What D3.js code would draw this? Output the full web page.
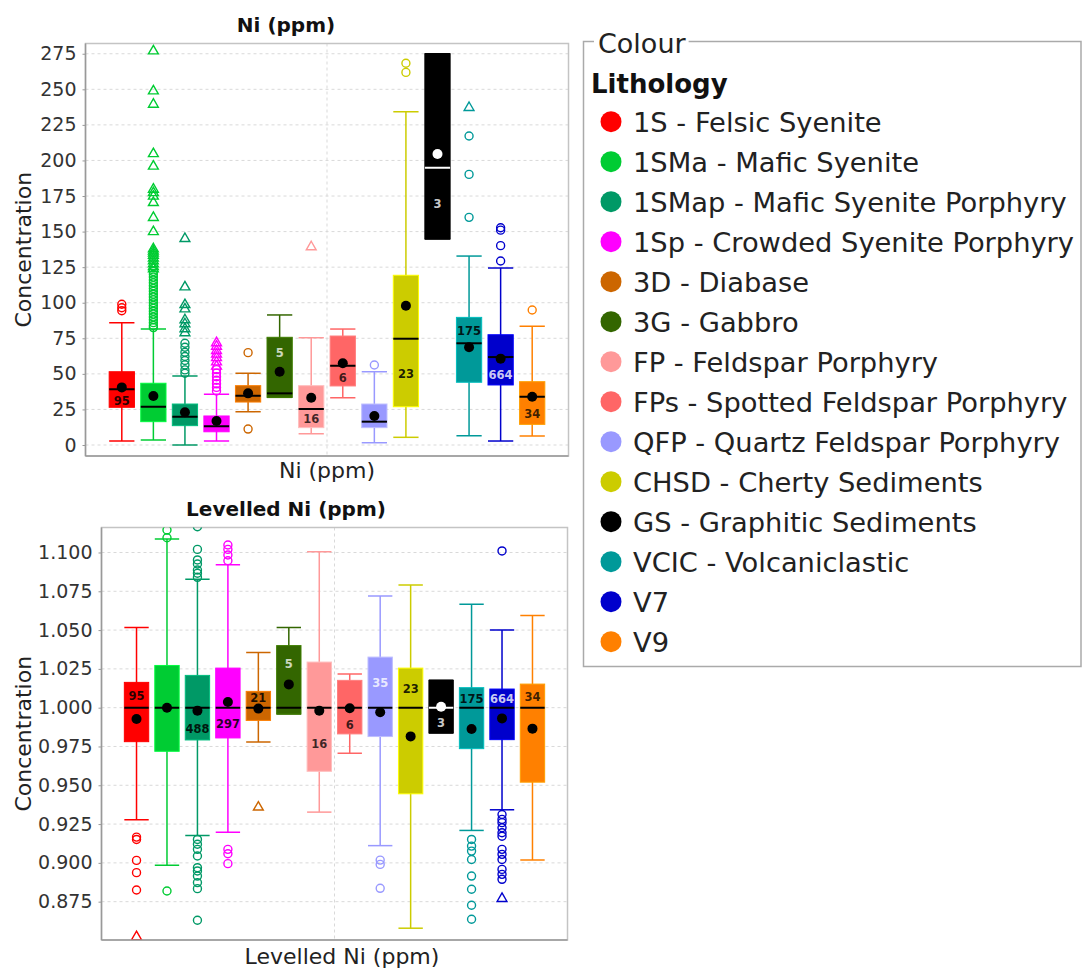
<!DOCTYPE html>
<html>
<head>
<meta charset="utf-8">
<script src="https://cdn.jsdelivr.net/npm/d3@7"></script>
<style>
  html, body { margin: 0; padding: 0; background: #fff; }
  svg { display: block; font-family: "DejaVu Sans", sans-serif; }
</style>
</head>
<body>
<svg id="chart" width="1084" height="968"></svg>
<script>
// ---- Lithology categories ----
const lithologies = ["1S", "1SMa", "1SMap", "1Sp", "3D", "3G", "FP", "FPs", "QFP", "CHSD", "GS", "VCIC", "V7", "V9"];
const lithologyNames = [
  "1S - Felsic Syenite", "1SMa - Mafic Syenite", "1SMap - Mafic Syenite Porphyry",
  "1Sp - Crowded Syenite Porphyry", "3D - Diabase", "3G - Gabbro", "FP - Feldspar Porphyry",
  "FPs - Spotted Feldspar Porphyry", "QFP - Quartz Feldspar Porphyry", "CHSD - Cherty Sediments",
  "GS - Graphitic Sediments", "VCIC - Volcaniclastic", "V7", "V9"
];
const sampleCounts = [95, null, 488, 297, 21, 5, 16, 6, 35, 23, 3, 175, 664, 34];

// ---- Ni (ppm) ----
const niTicks = [0, 25, 50, 75, 100, 125, 150, 175, 200, 225, 250, 275];
const niLow    = [2.8, 3.5, 0.0, 2.8, 23.4, 33.5, 7.9, 33.2, 1.6, 5.4, 144.8, 6.5, 2.8, 6.3];
const niQ1     = [26.5, 16.4, 13.6, 9.3, 30.2, 33.5, 12.2, 41.5, 12.2, 26.9, 144.8, 44.1, 42.2, 14.5];
const niMedian = [39.1, 26.9, 19.9, 13.1, 34.6, 36.3, 25.3, 55.7, 16.4, 74.7, 194.9, 71.5, 61.8, 33.9];
const niMean   = [40.5, 34.4, 23.0, 16.9, 36.3, 51.5, 33.2, 57.4, 20.4, 97.9, 204.5, 68.7, 60.7, 33.9];
const niQ3     = [51.5, 43.4, 28.8, 20.4, 41.7, 75.7, 41.7, 76.6, 28.8, 119.3, 275.0, 89.7, 77.5, 44.5];
const niHigh   = [86.0, 81.5, 48.5, 35.6, 50.4, 91.4, 75.4, 81.5, 51.5, 234.2, 275.0, 132.8, 124.4, 83.4];
const niOutliers = [
  [94.4, 96.5, 98.9],
  [122, 120, 118, 116, 114, 112, 110, 108, 106, 104, 102, 100, 98, 96, 94, 92, 90, 88, 86, 84, 82.5],
  [71.5, 68.7, 65.2, 62.2, 59.4, 56.3, 52.8, 50.4],
  [53, 50.5, 48, 45.5, 43, 40.5, 38],
  [64.9, 11.2],
  [], [], [],
  [56.2],
  [268.3, 261.9],
  [],
  [217.2, 190.2, 160.0],
  [152.7, 151.0, 140.1, 129.3],
  [94.9]
];
const niFarOutliers = [
  [],
  [277.6, 249.5, 240.1, 205.4, 196.6, 180.4, 178, 175.5, 171, 160.5, 150.6, 138.5, 137, 135.5, 134, 132, 130, 128, 126, 124.5],
  [145.7, 111.7, 99.3, 96.3, 88.6, 85.8, 82.3, 79.5],
  [72.5, 70, 67, 64.5, 62, 59, 56],
  [], [],
  [139.9],
  [], [], [], [],
  [237.8],
  [], []
];

// ---- Levelled Ni (ppm) ----
const levTicks = [0.875, 0.900, 0.925, 0.950, 0.975, 1.000, 1.025, 1.050, 1.075, 1.100];
const levLow    = [0.9278, 0.8984, 0.9177, 0.9198, 0.9779, 0.9959, 0.9327, 0.9706, 0.9111, 0.8579, 0.9837, 0.9209, 0.9342, 0.9018];
const levQ1     = [0.9781, 0.9719, 0.9792, 0.9805, 0.9918, 0.9959, 0.9590, 0.9831, 0.9814, 0.9445, 0.9837, 0.9736, 0.9794, 0.9520];
const levMedian = [1.000, 1.000, 1.000, 1.000, 1.000, 1.000, 1.000, 1.000, 1.000, 1.000, 1.000, 1.000, 1.000, 1.000];
const levMean   = [0.9927, 1.0000, 0.9981, 1.0037, 0.9994, 1.0150, 0.9981, 0.9996, 0.9970, 0.9815, 1.0006, 0.9863, 0.9931, 0.9865];
const levQ3     = [1.0163, 1.0272, 1.0208, 1.0255, 1.0105, 1.0400, 1.0294, 1.0176, 1.0326, 1.0255, 1.0176, 1.0129, 1.0120, 1.0152];
const levHigh   = [1.0516, 1.1087, 1.0828, 1.0921, 1.0356, 1.0516, 1.1005, 1.0217, 1.0720, 1.0791, 1.0176, 1.0667, 1.0500, 1.0594];
const levOutliers = [
  [0.9166, 0.9151, 0.9016, 0.8937, 0.8825],
  [0.8819, 1.1095, 1.1145],
  [1.1166, 1.1020, 1.0952, 1.0926, 1.0887, 1.0866, 1.0840, 0.9151, 0.9120, 0.9087, 0.9044, 0.8969, 0.8948, 0.8915, 0.8873, 0.8834, 0.8630],
  [1.1048, 1.1020, 1.0984, 1.0947, 0.9087, 0.9059, 0.8995],
  [], [], [], [],
  [0.9018, 0.8990, 0.8836],
  [], [],
  [0.9151, 0.9108, 0.9076, 0.9022, 0.8915, 0.8830, 0.8727, 0.8637],
  [1.1010, 0.9312, 0.9280, 0.9259, 0.9226, 0.9194, 0.9172, 0.9087, 0.9055, 0.9022, 0.8958, 0.8926, 0.8894],
  []
];
const levFarOutliers = [
  [0.8530], [], [], [],
  [0.9365],
  [], [], [], [], [], [], [],
  [0.8776],
  []
];

// ---- Styling ----
const lithologyColours = ["#ff0000", "#00cc33", "#009966", "#ff00ff", "#cc6600", "#336600", "#ff9999",
                          "#ff6666", "#9999ff", "#cccc00", "#000000", "#009999", "#0000cc", "#ff8000"];
const countInk = ["rgba(0,0,0,0.85)", "none", "rgba(0,0,0,0.85)", "rgba(0,0,0,0.85)", "rgba(0,0,0,0.85)",
                  "rgba(255,255,255,0.75)", "rgba(0,0,0,0.75)", "rgba(0,0,0,0.75)", "rgba(255,255,255,0.8)",
                  "rgba(0,0,0,0.85)", "rgba(255,255,255,0.8)", "rgba(0,0,0,0.85)", "rgba(255,255,255,0.8)",
                  "rgba(0,0,0,0.75)"];

const svg = d3.select("#chart");

function buildRows(low, q1, med, mean, q3, high, out, far) {
  return lithologies.map((code, i) => ({
    code, i, low: low[i], q1: q1[i], median: med[i], mean: mean[i], q3: q3[i], high: high[i],
    outliers: out[i], far: far[i], n: sampleCounts[i], colour: lithologyColours[i], ink: countInk[i]
  }));
}

const panels = [
  {
    id: "ni", title: "Ni (ppm)", xLabel: "Ni (ppm)",
    frame: { l: 85.5, r: 568.5, t: 43.5, b: 456 }, domain: [-7.73, 282.2],
    ticks: niTicks, fmt: d3.format("d"), titleY: 32, xLabelY: 478, xLabelX: 327,
    rows: buildRows(niLow, niQ1, niMedian, niMean, niQ3, niHigh, niOutliers, niFarOutliers)
  },
  {
    id: "lev", title: "Levelled Ni (ppm)", xLabel: "Levelled Ni (ppm)",
    frame: { l: 101.5, r: 567.5, t: 527.5, b: 940 }, domain: [0.8503, 1.1161],
    ticks: levTicks, fmt: d3.format(".3f"), titleY: 516, xLabelY: 964, xLabelX: 342,
    rows: buildRows(levLow, levQ1, levMedian, levMean, levQ3, levHigh, levOutliers, levFarOutliers)
  }
];
const titleCentre = 286;

// Position the sample count inside the box, away from the mean dot.
function countLabelY(d, y) {
  const q3 = y(d.q3), med = y(d.median), q1 = y(d.q1), mn = y(d.mean), r = 5;
  const freePiece = (a, b) => {
    const lo = mn - r, hi = mn + r, pieces = [];
    if (hi <= a || lo >= b) pieces.push([a, b]);
    else {
      if (lo > a) pieces.push([a, lo]);
      if (hi < b) pieces.push([hi, b]);
    }
    pieces.sort((p, q) => (q[1] - q[0]) - (p[1] - p[0]));
    return pieces[0] || [a, a];
  };
  const lower = freePiece(med, q1), upper = freePiece(q3, med);
  const order = (mn - med > 3.5) ? [upper, lower] : [lower, upper];
  const pick = order.find(p => p[1] - p[0] >= 11);
  return pick ? (pick[0] + pick[1]) / 2 : null;
}

panels.forEach(p => {
  const f = p.frame;
  const g = svg.append("g");
  const x = d3.scaleBand().domain(lithologies).range([f.l, f.r]).paddingInner(0).paddingOuter(0.65);
  const y = d3.scaleLinear().domain(p.domain).range([f.b, f.t]);
  const bw = x.bandwidth() * 0.8;
  const cx = d => x(d.code) + x.bandwidth() / 2;

  const clipId = "clip-" + p.id;
  g.append("clipPath").attr("id", clipId)
    .append("rect").attr("x", f.l).attr("y", f.t).attr("width", f.r - f.l).attr("height", f.b - f.t);

  // grid
  g.append("g").selectAll("line").data(p.ticks).join("line")
    .attr("x1", f.l).attr("x2", f.r)
    .attr("y1", d => y(d)).attr("y2", d => y(d))
    .attr("stroke", "#d9d9d9").attr("stroke-width", 1).attr("stroke-dasharray", "3,3");
  g.append("line")
    .attr("x1", (f.l + f.r) / 2).attr("x2", (f.l + f.r) / 2).attr("y1", f.t).attr("y2", f.b)
    .attr("stroke", "#d9d9d9").attr("stroke-width", 1).attr("stroke-dasharray", "3,3");

  // frame
  g.append("rect").attr("x", f.l).attr("y", f.t).attr("width", f.r - f.l).attr("height", f.b - f.t)
    .attr("fill", "none").attr("stroke", "#c4c4c4").attr("stroke-width", 1.5);

  const plot = g.append("g").attr("clip-path", `url(#${clipId})`);
  const boxes = plot.selectAll("g.box").data(p.rows).join("g").attr("class", "box");

  // whiskers
  boxes.append("line")
    .attr("x1", cx).attr("x2", cx).attr("y1", d => y(d.high)).attr("y2", d => y(d.low))
    .attr("stroke", d => d.colour).attr("stroke-width", 1.5);
  ["high", "low"].forEach(k => {
    boxes.append("line")
      .attr("x1", d => cx(d) - bw / 2).attr("x2", d => cx(d) + bw / 2)
      .attr("y1", d => y(d[k])).attr("y2", d => y(d[k]))
      .attr("stroke", d => d.colour).attr("stroke-width", 1.5);
  });

  // boxes
  boxes.append("rect")
    .attr("x", d => cx(d) - bw / 2).attr("width", bw)
    .attr("y", d => y(d.q3)).attr("height", d => Math.max(1, y(d.q1) - y(d.q3)))
    .attr("fill", d => d.colour)
    .attr("stroke", d => d3.color(d.colour).brighter(0.6)).attr("stroke-width", 1);

  const markInk = d => d.colour === "#000000" ? "#ffffff" : "#000000";

  // median
  boxes.append("line")
    .attr("x1", d => cx(d) - bw / 2).attr("x2", d => cx(d) + bw / 2)
    .attr("y1", d => y(d.median)).attr("y2", d => y(d.median))
    .attr("stroke", markInk).attr("stroke-width", 2);

  // mean
  boxes.append("circle")
    .attr("cx", cx).attr("cy", d => y(d.mean)).attr("r", 5)
    .attr("fill", markInk);

  // sample counts
  boxes.each(function (d) {
    if (d.n == null) return;
    const ly = countLabelY(d, y);
    if (ly == null) return;
    d3.select(this).append("text")
      .attr("x", cx(d)).attr("y", ly + 1)
      .attr("text-anchor", "middle").attr("dominant-baseline", "central")
      .attr("font-size", 11.5).attr("font-weight", "bold")
      .attr("fill", d.ink).text(d.n);
  });

  // outliers
  boxes.each(function (d) {
    const sel = d3.select(this);
    sel.selectAll("circle.out").data(d.outliers).join("circle").attr("class", "out")
      .attr("cx", cx(d)).attr("cy", v => y(v)).attr("r", 4)
      .attr("fill", "none").attr("stroke", d.colour).attr("stroke-width", 1.4);
    sel.selectAll("path.far").data(d.far).join("path").attr("class", "far")
      .attr("transform", v => `translate(${cx(d)},${y(v) + 1})`)
      .attr("d", d3.symbol(d3.symbolTriangle, 42))
      .attr("fill", "none").attr("stroke", d.colour).attr("stroke-width", 1.4);
  });

  // axes
  const yAxis = g.append("g").attr("transform", `translate(${f.l},0)`)
    .call(d3.axisLeft(y).tickValues(p.ticks).tickFormat(p.fmt).tickSize(3).tickPadding(6));
  yAxis.select(".domain").attr("d", `M0,${f.t}V${f.b}`).attr("stroke", "#999").attr("stroke-width", 1.5);
  yAxis.selectAll(".tick line").attr("stroke", "#999");
  yAxis.selectAll(".tick text").attr("font-size", 19).attr("fill", "#333")
    .attr("font-family", "DejaVu Sans, sans-serif");
  g.append("line").attr("x1", f.l).attr("x2", f.r).attr("y1", f.b).attr("y2", f.b)
    .attr("stroke", "#999").attr("stroke-width", 1.5);

  // labels
  g.append("text").attr("x", titleCentre).attr("y", p.titleY)
    .attr("text-anchor", "middle").attr("font-size", 20).attr("font-weight", "bold")
    .attr("fill", "#111").text(p.title);
  g.append("text").attr("x", p.xLabelX).attr("y", p.xLabelY)
    .attr("text-anchor", "middle").attr("font-size", 22).attr("fill", "#222").text(p.xLabel);
  g.append("text").attr("transform", `translate(31,${(f.t + f.b) / 2}) rotate(-90)`)
    .attr("text-anchor", "middle").attr("font-size", 22).attr("fill", "#222").text("Concentration");
});

// ---- Legend ----
const legend = svg.append("g");
const L = { l: 583.5, r: 1081, t: 41.5, b: 666.5 };
const capTitle = legend.append("text").attr("x", 598).attr("y", 53).attr("font-size", 27)
  .attr("fill", "#222").text("Colour");
const capEnd = 598 + capTitle.node().getComputedTextLength() + 3;
legend.insert("path", "text")
  .attr("d", `M${594},${L.t}H${L.l}V${L.b}H${L.r}V${L.t}H${capEnd}`)
  .attr("fill", "none").attr("stroke", "#aaa").attr("stroke-width", 1.5);
legend.append("text").attr("x", 591).attr("y", 93).attr("font-size", 26).attr("font-weight", "bold")
  .attr("fill", "#111").text("Lithology");
const items = legend.selectAll("g.item").data(lithologyNames).join("g").attr("class", "item")
  .attr("transform", (d, i) => `translate(0,${121.7 + 40 * i})`);
items.append("circle").attr("cx", 611).attr("cy", 0).attr("r", 10.5)
  .attr("fill", (d, i) => lithologyColours[i]);
items.append("text").attr("x", 633).attr("y", 10).attr("font-size", 27.3).attr("fill", "#222").text(d => d);
</script>
</body>
</html>
